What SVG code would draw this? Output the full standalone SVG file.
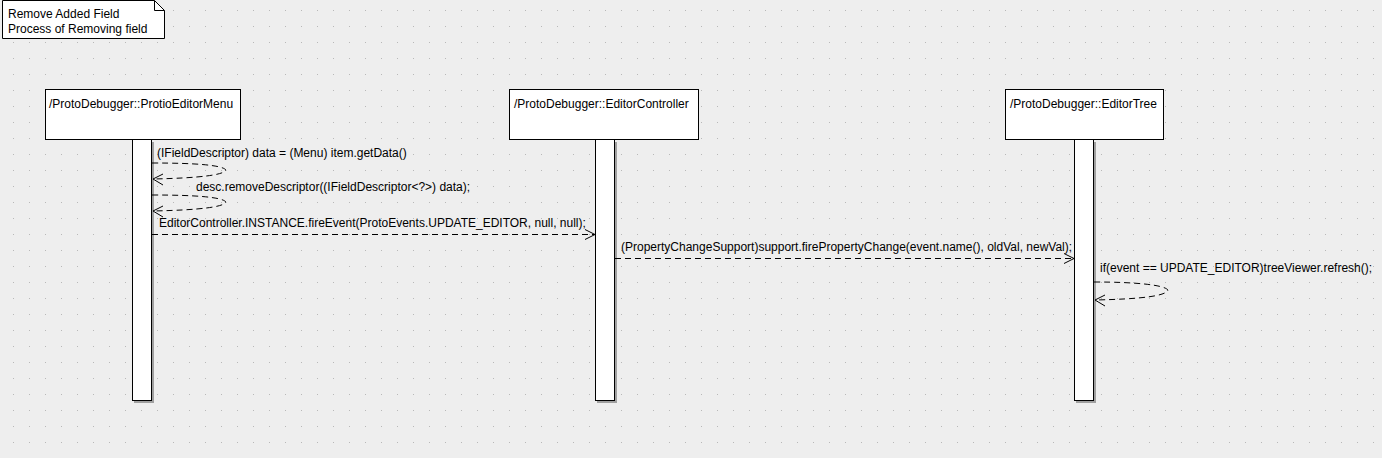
<svg xmlns="http://www.w3.org/2000/svg" width="1382" height="458" viewBox="0 0 1382 458">
<style>
text{font-family:"Liberation Sans",Arial,sans-serif;font-size:12px;fill:#000}
.box{fill:#fff;stroke:#000;stroke-width:1}
.bar{fill:#fff;stroke:#000;stroke-width:1}
.shadow{fill:#a0a0a0}
.msg{fill:none;stroke:#000;stroke-width:1;stroke-dasharray:6,4}
.head{fill:none;stroke:#000;stroke-width:1}
</style>
<defs>
<pattern id="grid" x="0" y="0" width="16" height="16" patternUnits="userSpaceOnUse">
<rect x="13" y="10" width="1" height="1" fill="#b8b8b8"/>
</pattern>
</defs>
<rect x="0" y="0" width="1382" height="458" fill="#eeeeee"/>
<rect x="0" y="0" width="1382" height="458" fill="url(#grid)"/>
<g id="note">
<path d="M2.5,0.5 H154.5 L164.5,10.5 V38.5 H2.5 Z" fill="#fff" stroke="#000"/>
<path d="M154.5,0.5 V10.5 H164.5" fill="none" stroke="#000"/>
<text x="8" y="18">Remove Added Field</text>
<text x="8" y="33">Process of Removing field</text>
</g>
<g id="lifeline-menu">
<rect class="shadow" x="134" y="142" width="20" height="261"/>
<rect class="bar" x="132.5" y="139.5" width="19" height="261"/>
<rect class="box" x="45.5" y="89.5" width="195" height="50"/>
<text x="49" y="108">/ProtoDebugger::ProtioEditorMenu</text>
</g>
<g id="lifeline-controller">
<rect class="shadow" x="597" y="142" width="20" height="261"/>
<rect class="bar" x="595.5" y="139.5" width="19" height="261"/>
<rect class="box" x="509.5" y="89.5" width="189" height="50"/>
<text x="514" y="108">/ProtoDebugger::EditorController</text>
</g>
<g id="lifeline-tree">
<rect class="shadow" x="1076" y="142" width="20" height="261"/>
<rect class="bar" x="1074.5" y="139.5" width="19" height="261"/>
<rect class="box" x="1005.5" y="89.5" width="158" height="50"/>
<text x="1010" y="108">/ProtoDebugger::EditorTree</text>
</g>
<g id="connectors">
<path class="msg" d="M152,163 C195,163 222,165 226,170 C224,175 200,178 153,179"/>
<path class="head" d="M163,174 L153,179 L163,185"/>
<path class="msg" d="M152,195 C195,195 222,197 226,202 C224,207 200,210 153,211"/>
<path class="head" d="M163,206 L153,211 L163,217"/>
<path class="msg" d="M152,234.5 H594"/>
<path class="head" d="M585,229.5 L595,234.5 L585,239.5"/>
<path class="msg" d="M615,258.5 H1073"/>
<path class="head" d="M1064,253.5 L1074,258.5 L1064,263.5"/>
<path class="msg" d="M1094,282 C1137,282 1164,285 1168,290 C1166,296 1142,299 1095,300"/>
<path class="head" d="M1105,295 L1095,300 L1105,306"/>
</g>
<g id="labels">
<text x="157" y="157">(IFieldDescriptor) data = (Menu) item.getData()</text>
<text x="196" y="191">desc.removeDescriptor((IFieldDescriptor&lt;?&gt;) data);</text>
<text x="159" y="227">EditorController.INSTANCE.fireEvent(ProtoEvents.UPDATE_EDITOR, null, null);</text>
<text x="621" y="251">(PropertyChangeSupport)support.firePropertyChange(event.name(), oldVal, newVal);</text>
<text x="1100" y="272">if(event == UPDATE_EDITOR)treeViewer.refresh();</text>
</g>
</svg>
